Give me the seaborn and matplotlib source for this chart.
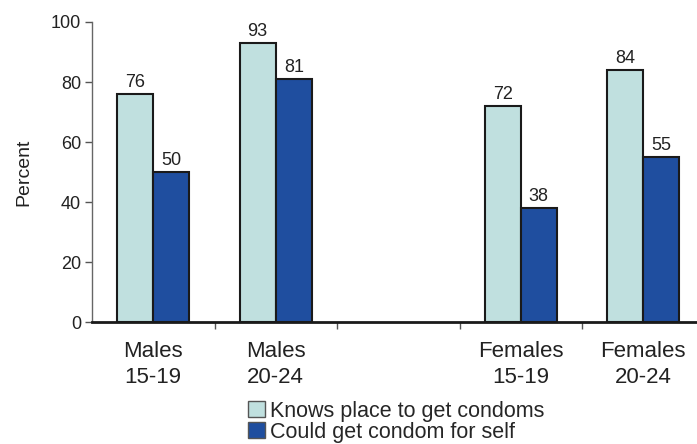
import matplotlib
matplotlib.use("Agg")
import matplotlib.pyplot as plt
import seaborn as sns
import pandas as pd
from matplotlib.ticker import FixedLocator

categories = ["Males\n15-19", "Males\n20-24", " ", "Females\n15-19", "Females\n20-24"]
series = ["Knows place to get condoms", "Could get condom for self"]
knows = [76, 93, None, 72, 84]
could = [50, 81, None, 38, 55]
colors = ["#C0E0DF", "#1F4E9F"]

rows = []
for c, k, g in zip(categories, knows, could):
    if k is not None:
        rows.append({"cat": c, "series": series[0], "value": k})
        rows.append({"cat": c, "series": series[1], "value": g})
df = pd.DataFrame(rows)

sns.set_style("white")
plt.rcParams["font.family"] = ["Liberation Sans", "DejaVu Sans"]

fig = plt.figure(figsize=(6.97, 4.44), dpi=100)
ax = fig.add_axes([92/697, 1-322/444, (697-92)/697, 300/444])

sns.barplot(data=df, x="cat", y="value", hue="series", order=categories,
            hue_order=series, palette=colors, width=0.59,
            edgecolor="#1a1a1a", linewidth=1.5, ax=ax, errorbar=None,
            saturation=1)

for cont in ax.containers:
    ax.bar_label(cont, fmt="%g", padding=2, fontsize=13, color="#222222")

ax.set_ylim(0, 100)
ax.set_xlim(-0.5, 4.5 - 7.5/122.5)
ax.set_yticks([0, 20, 40, 60, 80, 100])
ax.tick_params(axis="y", labelsize=13, length=5, width=1, color="#555555",
               direction="out", left=True, pad=3, labelcolor="#222222")
ax.set_xticks(range(len(categories)))
ax.set_xticklabels(categories, fontsize=16, color="#222222", linespacing=1.3)
ax.tick_params(axis="x", length=0, pad=14)
ax.xaxis.set_minor_locator(FixedLocator([0.5, 1.5, 2.5, 3.5]))
ax.tick_params(axis="x", which="minor", length=5, width=1, color="#555555",
               direction="out", bottom=True)
ax.set_xlabel("")
ax.set_ylabel("Percent", fontsize=14, color="#222222", labelpad=13)

for s in ["top", "right"]:
    ax.spines[s].set_visible(False)
ax.spines["left"].set_color("#666666")
ax.spines["left"].set_linewidth(1)
ax.spines["bottom"].set_color("#1a1a1a")
ax.spines["bottom"].set_linewidth(2)

ax.legend(loc="upper center", bbox_to_anchor=(0.503, -0.262), frameon=False,
          fontsize=15.5, handlelength=0.75, handleheight=0.75, handletextpad=0.25,
          labelspacing=0.0, borderaxespad=0, borderpad=0)
for h in ax.get_legend().legend_handles:
    h.set_edgecolor("#555555")
    h.set_linewidth(1)

fig.savefig("out.png", dpi=100)
